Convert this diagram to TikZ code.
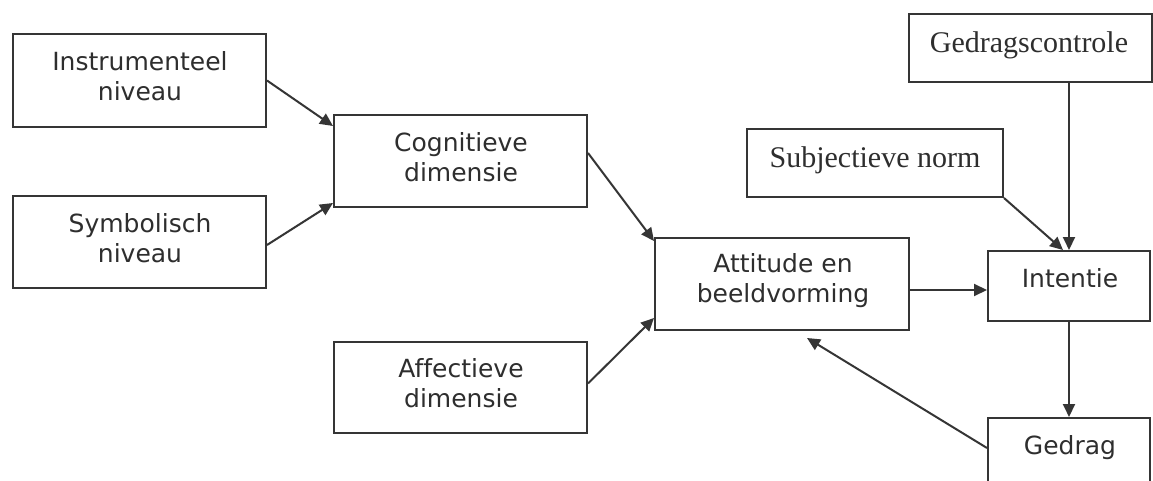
\documentclass[tikz,border=0pt]{standalone}
\usepackage{fontspec}
\usetikzlibrary{arrows.meta,calc}
\newfontfamily\boxsans[Ligatures={NoCommon}]{DejaVu Sans}
\newfontfamily\boxserif{Liberation Serif}
\definecolor{linec}{HTML}{353535}
\definecolor{textc}{HTML}{2E2E2E}
\tikzset{
  box/.style={draw=linec, line width=2pt, rectangle, inner sep=0pt},
  sanslbl/.style={font=\boxsans\fontsize{25}{30}\selectfont, text=textc, align=center, inner sep=0pt},
  seriflbl/.style={font=\boxserif\fontsize{30}{34}\selectfont, text=textc, inner sep=0pt},
  arr/.style={draw=linec, line width=2pt, -{Triangle[length=13pt,width=12pt]}}
}
\begin{document}
\begin{tikzpicture}[x=1pt, y=-1pt]
  \useasboundingbox (0,0) rectangle (1153,481);
  \fill[white] (0,0) rectangle (1153,481);
  \clip (0,0) rectangle (1153,481);

  % boxes
  \node[box, minimum width=253pt, minimum height=93pt] (inst) at (139.5,80.5) {};
  \node[box, minimum width=253pt, minimum height=92pt] (symb) at (139.5,242) {};
  \node[box, minimum width=253pt, minimum height=92pt] (cogn) at (460.5,161) {};
  \node[box, minimum width=253pt, minimum height=91pt] (affe) at (460.5,387.5) {};
  \node[box, minimum width=254pt, minimum height=92pt] (atti) at (782,284) {};
  \node[box, minimum width=243pt, minimum height=68pt] (gcon) at (1030,48) {};
  \node[box, minimum width=256pt, minimum height=68pt] (subj) at (875,163) {};
  \node[box, minimum width=162pt, minimum height=70pt] (inte) at (1069,286) {};
  \node[box, minimum width=162pt, minimum height=72pt] (gedr) at (1069,454) {};

  % labels
  \node[sanslbl] (tinst) at (140,76) {Instrumenteel\\niveau};
  \node[sanslbl] (tsymb) at (140,238) {Symbolisch\\niveau};
  \node[sanslbl] (tcogn) at (461,157.5) {Cognitieve\\dimensie};
  \node[sanslbl] (taffe) at (461,383.5) {Affectieve\\dimensie};
  \node[sanslbl] (tatti) at (783,281) {Attitude en\\beeldvorming};
  \node[seriflbl, anchor=base] (tgcon) at (1029,53) {Gedragscontrole};
  \node[seriflbl, anchor=base] (tsubj) at (875,168) {Subjectieve norm};
  \node[sanslbl, anchor=base] (tinte) at (1070,287) {Intentie};
  \node[sanslbl, anchor=base] (tgedr) at (1070,454) {Gedrag};

  % connectors
  \draw[arr] (inst.east) -- ([yshift=-12pt]cogn.north west);
  \draw[arr] ([yshift=-3pt]symb.east) -- ([yshift=5pt]cogn.south west);
  \draw[arr] ([yshift=8pt]cogn.east) -- ([yshift=-4pt]atti.north west);
  \draw[arr] ([yshift=4pt]affe.east) -- ([yshift=13pt]atti.south west);
  \draw[arr] ([yshift=-6pt]atti.east) -- ([yshift=-4pt]inte.west);
  \draw[arr] (gcon.south -| inte.north) -- (inte.north);
  \draw[arr] (subj.south east) -- ([xshift=-6pt]inte.north);
  \draw[arr] (inte.south) -- (gedr.north);
  \coordinate (fb) at ([xshift=25pt,yshift=-7pt]atti.south);
  \draw[arr] ([yshift=6pt]gedr.west) -- (fb);
\end{tikzpicture}
\end{document}
